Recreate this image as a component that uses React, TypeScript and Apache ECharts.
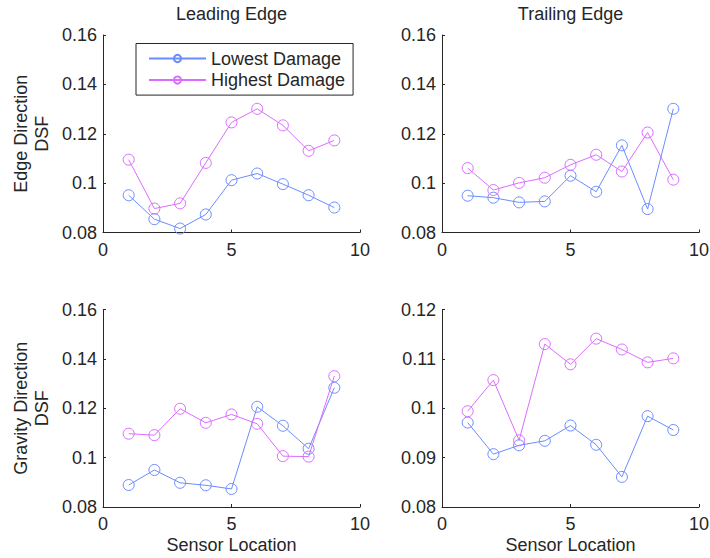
import React, { useEffect, useRef } from "react";
import * as echarts from "echarts";

// Sensor positions along the blade
const sensors = [1, 2, 3, 4, 5, 6, 7, 8, 9];

// Edge direction DSF
const edgeLeadingLowest = [0.0951, 0.0854, 0.0816, 0.0873, 0.1012, 0.1039, 0.0996, 0.0951, 0.0901];
const edgeLeadingHighest = [0.1095, 0.0897, 0.0918, 0.1082, 0.1246, 0.1301, 0.1234, 0.1131, 0.1173];
const edgeTrailingLowest = [0.0949, 0.0941, 0.0922, 0.0926, 0.103, 0.0965, 0.1153, 0.0895, 0.1301];
const edgeTrailingHighest = [0.1061, 0.0972, 0.1001, 0.1022, 0.1074, 0.1115, 0.1047, 0.1205, 0.1014];

// Gravity direction DSF
const gravityLeadingLowest = [0.0889, 0.095, 0.0898, 0.0888, 0.0873, 0.1206, 0.1129, 0.1036, 0.1283];
const gravityLeadingHighest = [0.1097, 0.1091, 0.1198, 0.1141, 0.1175, 0.1137, 0.1006, 0.1004, 0.133];
const gravityTrailingLowest = [0.0971, 0.0907, 0.0925, 0.0934, 0.0965, 0.0926, 0.0861, 0.0984, 0.0956];
const gravityTrailingHighest = [0.0994, 0.1057, 0.0935, 0.113, 0.1089, 0.1141, 0.1119, 0.1093, 0.1101];

const panelTitles = ["Leading Edge", "Trailing Edge"];
const rowNames = ["Edge Direction\nDSF", "Gravity Direction\nDSF"];
const xName = "Sensor Location";
const seriesNames = ["Lowest Damage", "Highest Damage"];

const BLUE = "#6b8cff";
const PINK = "#dc6cff";
const INK = "#262626";
const FONT = "'Liberation Sans', Arial, Helvetica, sans-serif";

const grids = [
  { left: 103, top: 35, width: 257, height: 197.5 },
  { left: 442, top: 35, width: 257, height: 197.5 },
  { left: 103, top: 309.5, width: 257, height: 197.5 },
  { left: 442, top: 309.5, width: 257, height: 197.5 },
];

const yRanges = [
  { min: 0.08, max: 0.16, interval: 0.02 },
  { min: 0.08, max: 0.16, interval: 0.02 },
  { min: 0.08, max: 0.16, interval: 0.02 },
  { min: 0.08, max: 0.12, interval: 0.01 },
];

const panelData = [
  [edgeLeadingLowest, edgeLeadingHighest],
  [edgeTrailingLowest, edgeTrailingHighest],
  [gravityLeadingLowest, gravityLeadingHighest],
  [gravityTrailingLowest, gravityTrailingHighest],
];

export default function App() {
  const ref = useRef<HTMLDivElement>(null);

  useEffect(() => {
    if (!ref.current) return;
    const chart = echarts.init(ref.current, null, { renderer: "svg" });

    const axisLine = { show: true, lineStyle: { color: INK, width: 1 } };
    const axisTick = { show: true, inside: true, length: 3, lineStyle: { color: INK, width: 1 } };
    const labelStyle = { color: INK, fontSize: 18, fontFamily: FONT };

    const xAxes = grids.map((_, i) => ({
      type: "value",
      gridIndex: i,
      min: 0,
      max: 10,
      interval: 5,
      axisLine,
      axisTick,
      splitLine: { show: false },
      axisLabel: { ...labelStyle, margin: 8 },
      name: i >= 2 ? xName : "",
      nameLocation: "middle",
      nameGap: 29,
      nameTextStyle: { ...labelStyle },
    }));

    const yAxes = grids.map((_, i) => ({
      type: "value",
      gridIndex: i,
      ...yRanges[i],
      axisLine,
      axisTick,
      splitLine: { show: false },
      axisLabel: { ...labelStyle, margin: 6 },
      name: i % 2 === 0 ? rowNames[i / 2] : "",
      nameLocation: "middle",
      nameRotate: 90,
      nameGap: 50,
      nameTextStyle: { ...labelStyle, lineHeight: 21.5 },
    }));

    const colors = [BLUE, PINK];
    const series: any[] = [];
    panelData.forEach((pair, gi) => {
      pair.forEach((vals, si) => {
        series.push({
          type: "line",
          name: seriesNames[si],
          xAxisIndex: gi,
          yAxisIndex: gi,
          data: sensors.map((s, k) => [s, vals[k]]),
          symbol: "circle",
          symbolSize: 11,
          itemStyle: { color: "rgba(255,255,255,0)", borderColor: colors[si], borderWidth: 1 },
          lineStyle: { color: colors[si], width: 1 },
          z: 2,
        });
      });
    });

    chart.setOption({
      animation: false,
      backgroundColor: "#ffffff",
      title: panelTitles.map((t, i) => ({
        text: t,
        left: grids[i].left + grids[i].width / 2,
        top: 5,
        textAlign: "center",
        padding: 0,
        textStyle: { ...labelStyle, fontWeight: "normal" },
      })),
      legend: {
        data: seriesNames,
        orient: "vertical",
        left: 136,
        top: 43.5,
        padding: [6, 8, 6, 12],
        itemWidth: 57,
        itemHeight: 9,
        itemGap: 3.6,
        borderColor: INK,
        borderWidth: 1,
        backgroundColor: "#ffffff",
        textStyle: { ...labelStyle, lineHeight: 18 },
        z: 10,
      },
      grid: grids.map((g) => ({ ...g, containLabel: false, outerBoundsMode: "none" })),
      xAxis: xAxes,
      yAxis: yAxes,
      series,
    });

    return () => chart.dispose();
  }, []);

  return (
    <div
      ref={ref}
      style={{ position: "fixed", left: 0, top: 0, width: 710, height: 558, background: "#fff" }}
    />
  );
}
